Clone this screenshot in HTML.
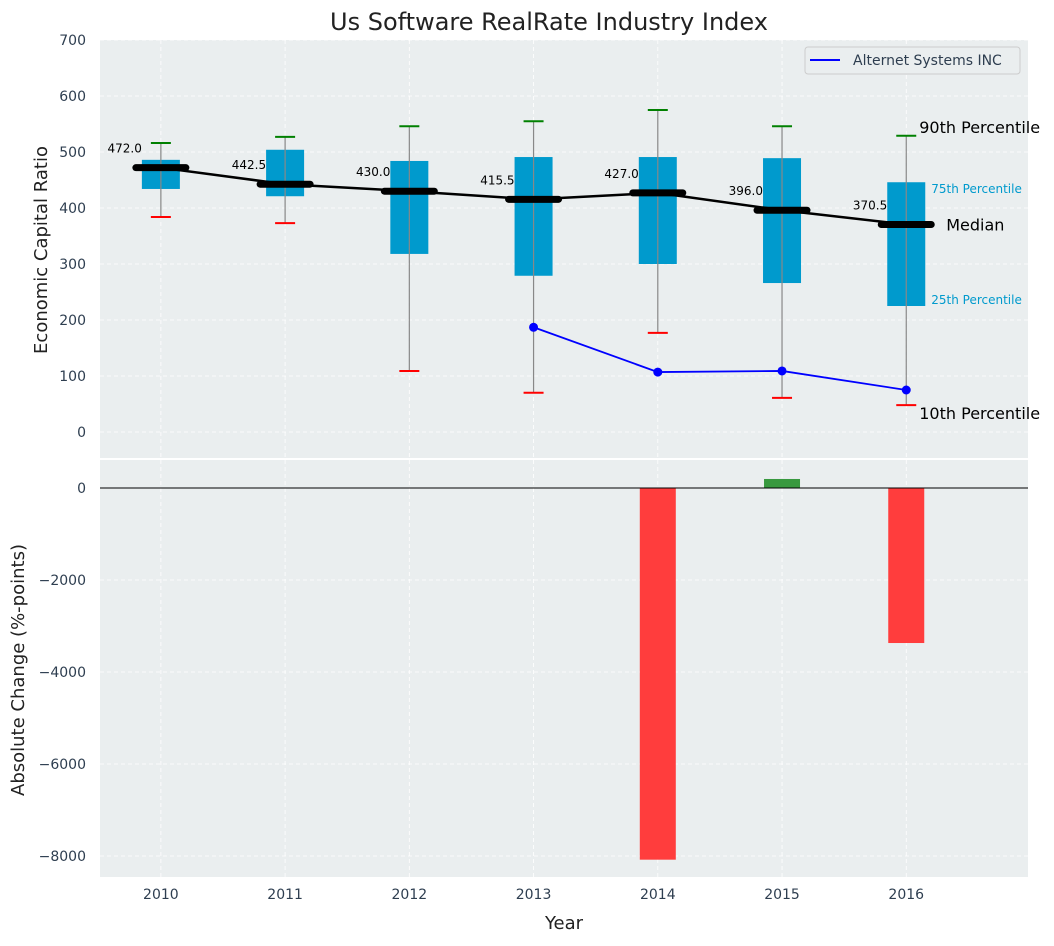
<!DOCTYPE html>
<html><head><meta charset="utf-8"><style>
body{margin:0;background:#fff;font-family:"DejaVu Sans","Liberation Sans",sans-serif}
svg text{font-family:"DejaVu Sans","Liberation Sans",sans-serif}
</style></head><body>
<svg id="c" width="1054" height="942" xmlns="http://www.w3.org/2000/svg"></svg>
<script>
const years=[2010,2011,2012,2013,2014,2015,2016];
const p10=[384,373,109,70,177,61,48];
const p25=[434,421,318,279,300,266,225];
const median=[472.0,442.5,430.0,415.5,427.0,396.0,370.5];
const p75=[486,504,484,491,491,489,446];
const p90=[516,527,546,555,575,546,529];
const compYears=[2013,2014,2015,2016];
const compVals=[187,107,109,75];
const changeYears=[2014,2015,2016];
const changeVals=[-8080,196,-3370];
const topTicks=[0,100,200,300,400,500,600,700];
const botTicks=[0,-2000,-4000,-6000,-8000];

const NS="http://www.w3.org/2000/svg",svg=document.getElementById('c');
function el(t,a,txt){const e=document.createElementNS(NS,t);for(const k in a)e.setAttribute(k,a[k]);if(txt!=null)e.textContent=txt;svg.appendChild(e);return e;}
const X0=100,X1=1028;
const x=v=>X0+(v-2009.51)/(2016.98-2009.51)*(X1-X0);
const yT=v=>432-v*0.56;
const yB=v=>488-v*0.046;

let e;
e=el('rect',{x:X0,y:40,width:X1-X0,height:418,fill:'#eaeeef'});

e=el('rect',{x:X0,y:460,width:X1-X0,height:417,fill:'#eaeeef'});


years.forEach(yr=>{
 el('line',{x1:x(yr),x2:x(yr),y1:40,y2:458,stroke:'#fff','stroke-dasharray':'4,3','stroke-width':0.8});
 el('line',{x1:x(yr),x2:x(yr),y1:460,y2:877,stroke:'#fff','stroke-dasharray':'4,3','stroke-width':0.8});
 e=el('text',{x:x(yr),y:899,'text-anchor':'middle','font-size':14,fill:'#2e3e50'},yr);
 
});
topTicks.forEach(t=>{
 el('line',{x1:X0,x2:X1,y1:yT(t),y2:yT(t),stroke:'#fff','stroke-dasharray':'4,3','stroke-width':0.8});
 e=el('text',{x:86,y:yT(t)+5,'text-anchor':'end','font-size':14,fill:'#2e3e50'},t);
 
});
botTicks.forEach(t=>{
 el('line',{x1:X0,x2:X1,y1:yB(t),y2:yB(t),stroke:'#fff','stroke-dasharray':'4,3','stroke-width':0.8});
 e=el('text',{x:86,y:yB(t)+5,'text-anchor':'end','font-size':14,fill:'#2e3e50'},t<0?'\u2212'+(-t):t);
 
});

years.forEach((yr,i)=>{
 const cx=x(yr);
 e=el('rect',{x:cx-19,y:yT(p75[i]),width:38,height:yT(p25[i])-yT(p75[i]),fill:'#009acd'});
 
 e=el('line',{x1:cx,x2:cx,y1:yT(p90[i]),y2:yT(p10[i]),stroke:'#888','stroke-width':1.2});
 
 e=el('line',{x1:cx-10,x2:cx+10,y1:yT(p90[i]),y2:yT(p90[i]),stroke:'green','stroke-width':2});
 
 e=el('line',{x1:cx-10,x2:cx+10,y1:yT(p10[i]),y2:yT(p10[i]),stroke:'red','stroke-width':2});
 
});
e=el('polyline',{points:years.map((yr,i)=>x(yr)+','+yT(median[i])).join(' '),fill:'none',stroke:'#000','stroke-width':2.5});

years.forEach((yr,i)=>{
 const cx=x(yr);
 e=el('line',{x1:cx-25,x2:cx+25,y1:yT(median[i]),y2:yT(median[i]),stroke:'#000','stroke-width':7,'stroke-linecap':'round'});
 
 e=el('text',{x:cx-19,y:yT(median[i])-15,'text-anchor':'end','font-size':12,fill:'#000'},median[i].toFixed(1));
 
});
e=el('polyline',{points:compYears.map((yr,i)=>x(yr)+','+yT(compVals[i])).join(' '),fill:'none',stroke:'#0000ff','stroke-width':1.8});

compYears.forEach((yr,i)=>{
 e=el('circle',{cx:x(yr),cy:yT(compVals[i]),r:4.5,fill:'#0000ff'});
 
});
const lx=x(2016);
[['90th Percentile',lx+13,yT(p90[6])-3,16,'#000'],['75th Percentile',lx+25,yT(p75[6])+11,12,'#009acd'],['Median',lx+40,yT(median[6])+6,16,'#000'],['25th Percentile',lx+25,yT(p25[6])-2,12,'#009acd'],['10th Percentile',lx+13,yT(p10[6])+14,16,'#000']].forEach(a=>{
 e=el('text',{x:a[1],y:a[2],'font-size':a[3],fill:a[4]},a[0]);
 
});
e=el('rect',{x:805,y:47,width:215,height:27,rx:3,fill:'#eaeeef',stroke:'#ccc'});

el('line',{x1:810,x2:840,y1:60,y2:60,stroke:'#0000ff','stroke-width':2});
e=el('text',{x:853,y:65,'font-size':14,fill:'#2e3e50'},'Alternet Systems INC');


changeYears.forEach((yr,i)=>{
 const v=changeVals[i];
 e=el('rect',{x:x(yr)-18,y:Math.min(yB(0),yB(v)),width:36,height:Math.abs(yB(v)-yB(0)),fill:v<0?'#ff3d3d':'#38993f'});
 
});
el('line',{x1:X0,x2:X1,y1:yB(0),y2:yB(0),stroke:'#000','stroke-width':1});

e=el('text',{x:549,y:30,'text-anchor':'middle','font-size':24,fill:'#222'},'Us Software RealRate Industry Index');

e=el('text',{x:564,y:929,'text-anchor':'middle','font-size':18,fill:'#222'},'Year');

e=el('text',{x:47,y:250,'text-anchor':'middle','font-size':18,fill:'#222',transform:'rotate(-90 47 250)'},'Economic Capital Ratio');

e=el('text',{x:24,y:670,'text-anchor':'middle','font-size':18,fill:'#222',transform:'rotate(-90 24 670)'},'Absolute Change (%-points)');

</script>
</body></html>
